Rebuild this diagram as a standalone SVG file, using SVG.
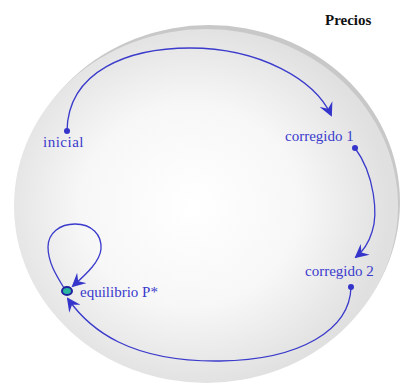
<svg xmlns="http://www.w3.org/2000/svg" width="403" height="387" viewBox="0 0 403 387">
<defs>
<radialGradient id="bg" cx="0.46" cy="0.5" r="0.52">
<stop offset="0" stop-color="#ffffff"/>
<stop offset="0.55" stop-color="#f7f7f7"/>
<stop offset="1" stop-color="#e0e0e0"/>
</radialGradient>
<marker id="ah" viewBox="0 0 14 14" refX="12" refY="7" markerWidth="14" markerHeight="14" markerUnits="userSpaceOnUse" orient="auto">
<path d="M0,0 L14,7 L0,14 L5,7 Z" fill="#3535cc"/>
</marker>
<marker id="dot" viewBox="0 0 6 6" refX="3" refY="3" markerWidth="6" markerHeight="6" markerUnits="userSpaceOnUse">
<circle cx="3" cy="3" r="3" fill="#3535cc"/>
</marker>
</defs>
<style>
.lbl{font-family:"Liberation Serif",serif;font-size:15px;fill:#3a3acc}
.cn{fill:none;stroke:#3a3acc;stroke-width:1.3}
</style>
<rect width="403" height="387" fill="#ffffff"/>
<ellipse cx="209" cy="202" rx="191" ry="177" fill="#c8c8c8"/>
<ellipse cx="206" cy="206" rx="192" ry="177" fill="url(#bg)"/>
<text x="325" y="25" font-family="Liberation Serif, serif" font-size="15" font-weight="bold" fill="#111">Precios</text>
<g id="connectors">
<path class="cn" d="M67,131 C68,70 130,48 190,48 C260,48 315,80 331,115" marker-start="url(#dot)" marker-end="url(#ah)"/>
<path class="cn" d="M355,148 C375,175 378,215 372,232 C368,245 362,252 356,257" marker-start="url(#dot)" marker-end="url(#ah)"/>
<path class="cn" d="M351,287 C350,330 300,360 220,361 C130,362 90,330 68,299" marker-start="url(#dot)" marker-end="url(#ah)"/>
<path class="cn" d="M64,288 C56,275 48,262 48,247 C48,233 60,224 75,224 C92,224 102,235 101,249 C100,262 85,275 73,286" marker-end="url(#ah)"/>
</g>
<g id="inicial"><text class="lbl" x="43" y="147" letter-spacing="0.5">inicial</text></g>
<g id="corregido1"><text class="lbl" x="285" y="141">corregido 1</text></g>
<g id="corregido2"><text class="lbl" x="305" y="276">corregido 2</text></g>
<g id="equilibrio">
<ellipse cx="67" cy="291" rx="5" ry="4" fill="#2bb5a0" stroke="#2020a0" stroke-width="2"/>
<text class="lbl" x="80" y="297">equilibrio P*</text>
</g>
</svg>
